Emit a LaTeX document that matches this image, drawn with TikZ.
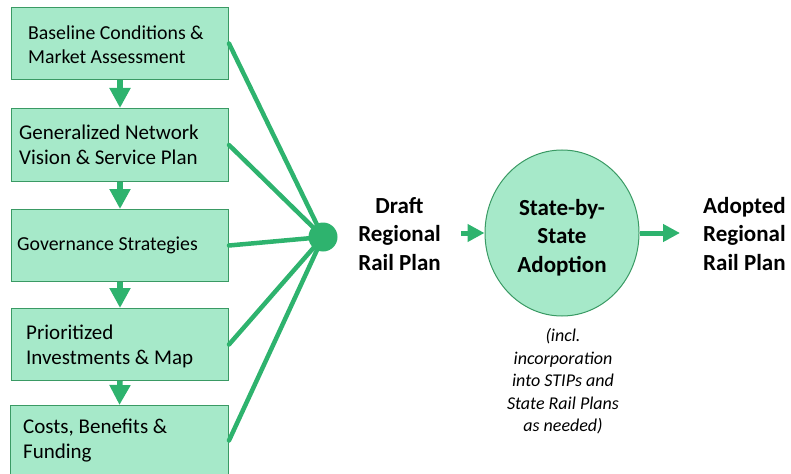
\documentclass[tikz,border=0pt]{standalone}
\usepackage{fontspec}
\setmainfont{Carlito}
\usetikzlibrary{arrows.meta,shapes.geometric}
\definecolor{boxfill}{HTML}{A6E9C9}
\definecolor{boxline}{HTML}{3A9A64}
\definecolor{flow}{HTML}{2EB36E}
\begin{document}
\begin{tikzpicture}[x=1pt,y=-1pt,
  stepbox/.style={draw=boxline,fill=boxfill,line width=1pt,rectangle,inner sep=0,
    minimum width=217pt,anchor=north west},
  boxtext/.style={anchor=west,align=left,inner sep=0,
    font=\fontsize{21}{25}\selectfont},
  smalltext/.style={boxtext,font=\fontsize{19.8}{24}\selectfont},
  bigtext/.style={align=center,inner sep=0,
    font=\fontsize{23}{28.5}\selectfont\bfseries},
  downarrow/.style={draw=flow,line width=5.5pt,
    -{Triangle[length=20pt,width=20pt]}},
  sidearrow/.style={draw=flow,line width=5pt,
    -{Triangle[length=17pt,width=17pt]}},
  feed/.style={draw=flow,line width=4.5pt}]
\useasboundingbox (0,0) rectangle (791,473);

% process steps
\node[stepbox,minimum height=72pt] (b1) at (11,7) {};
\node[stepbox,minimum height=73pt] (b2) at (11,108) {};
\node[stepbox,minimum height=72pt] (b3) at (11,209) {};
\node[stepbox,minimum height=72pt] (b4) at (11,308) {};
\node[stepbox,minimum height=70pt,minimum width=218pt] (b5) at (10,405) {};

\node[smalltext] (t1) at (28,45) {Baseline Conditions \&\\Market Assessment};
\node[boxtext] (t2) at (19,145) {Generalized Network\\Vision \& Service Plan};
\node[smalltext] (t3) at (17,245) {Governance Strategies};
\node[boxtext] (t4) at (26,346) {Prioritized\\Investments \& Map};
\node[boxtext] (t5) at (23,441) {Costs, Benefits \&\\Funding};

% arrows between steps
\draw[downarrow] (b1.south) -- (b2.north);
\draw[downarrow] (b2.south) -- (b3.north);
\draw[downarrow] (b3.south) -- (b4.north);
\draw[downarrow] (b4.south) -- (b5.north);

% merge point
\node[circle,fill=flow,minimum size=29pt,inner sep=0] (hub) at (323,237) {};
\foreach \b in {b1,b2,b3,b4,b5}
  \draw[feed,line cap=round] (\b.east) -- (hub.center);

% draft plan, state adoption, adopted plan
\node[bigtext] (draft) at (399.5,234) {Draft\\Regional\\Rail Plan};
\node[ellipse,draw=boxline,fill=boxfill,line width=1pt,minimum width=154pt,
  minimum height=166pt,inner sep=0] (state) at (562,233) {};
\node[bigtext] (statetext) at (562,237.5) {State-by-\\State\\Adoption};
\node[bigtext,align=left,anchor=west] (adopted) at (703,234) {Adopted\\Regional\\Rail Plan};

\coordinate (drafttail) at (461,233);
\coordinate (adoptedhead) at (680,233);
\draw[sidearrow] (drafttail) -- (state.west);
\draw[sidearrow] (state.east) -- (adoptedhead);

\node[align=center,inner sep=0,font=\fontsize{18}{22.5}\selectfont\itshape] (note)
  at (563,381.5) {(incl.\\incorporation\\into STIPs and\\State Rail Plans\\as needed)};
\end{tikzpicture}
\end{document}
